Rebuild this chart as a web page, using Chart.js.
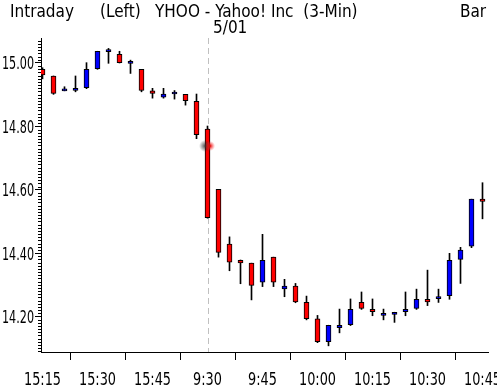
<!DOCTYPE html>
<html>
<head>
<meta charset="UTF-8">
<title>YHOO Intraday 3-Min</title>
<style>
  body { margin: 0; background: #fff; }
  #wrap { width: 497px; height: 389px; }
</style>
</head>
<body>
<div id="wrap"><canvas id="chart" width="497" height="389"></canvas></div>
<script src="https://cdn.jsdelivr.net/npm/chart.js"></script>
<script>
// 3-minute bars: 15:15 on the previous day, then 5/01 from 9:30 to 10:45
const opens  = [14.980, 14.959, 14.912, 14.913, 14.922, 14.982, 15.036, 15.027, 14.999, 14.980,
                14.912, 14.892, 14.902, 14.901, 14.879, 14.791, 14.601, 14.428, 14.377, 14.368,
                14.308, 14.387, 14.287, 14.296, 14.244, 14.192, 14.120, 14.164, 14.174, 14.244,
                14.222, 14.203, 14.206, 14.215, 14.225, 14.254, 14.256, 14.265, 14.380, 14.422, 14.570];
const highs  = [14.985, 14.959, 14.925, 14.959, 15.001, 15.037, 15.046, 15.037, 15.009, 14.980,
                14.920, 14.920, 14.913, 14.901, 14.902, 14.801, 14.601, 14.451, 14.378, 14.368,
                14.459, 14.387, 14.317, 14.304, 14.264, 14.203, 14.172, 14.223, 14.255, 14.277,
                14.255, 14.223, 14.213, 14.277, 14.286, 14.346, 14.286, 14.399, 14.418, 14.570, 14.622];
const lows   = [14.950, 14.901, 14.912, 14.909, 14.919, 14.980, 14.999, 15.000, 14.967, 14.909,
                14.889, 14.889, 14.886, 14.867, 14.761, 14.510, 14.387, 14.344, 14.303, 14.252,
                14.294, 14.294, 14.262, 14.243, 14.189, 14.117, 14.107, 14.148, 14.171, 14.222,
                14.202, 14.189, 14.181, 14.202, 14.222, 14.234, 14.244, 14.254, 14.304, 14.417, 14.508];
const closes = [14.962, 14.904, 14.912, 14.920, 14.980, 15.037, 15.036, 15.001, 14.999, 14.913,
                14.904, 14.902, 14.902, 14.881, 14.774, 14.512, 14.402, 14.371, 14.369, 14.298,
                14.377, 14.308, 14.296, 14.246, 14.193, 14.120, 14.172, 14.172, 14.222, 14.225,
                14.215, 14.203, 14.213, 14.222, 14.254, 14.246, 14.262, 14.377, 14.409, 14.570, 14.563];

const timeLabels = ['15:15', '15:30', '15:45', '9:30', '9:45', '10:00', '10:15', '10:30', '10:45'];
const labelEvery = 5;          // one time label every 5 bars (15 min)
const priceTicks = [14.20, 14.40, 14.60, 14.80, 15.00];
const sessionBreak = 15;       // first bar of 5/01
const cursorAt = { x: 15.05, y: 14.738 };

const FONT = "'DejaVu Sans Condensed', 'DejaVu Sans', sans-serif";
Chart.defaults.font.family = FONT;
Chart.defaults.color = '#000';

const idx = opens.map((_, i) => i);
const bodies = idx.map(i => ({ x: i, y: [opens[i], closes[i]] }));
const wicks = idx.map(i => ({ x: i, y: [lows[i], highs[i]] }));
const bodyColors = idx.map(i => closes[i] >= opens[i] ? '#0000ff' : '#ff0000');

// the original uses a narrow bitmap face, so squeeze tick labels sideways
function narrowText(ctx, text, x, y, align, squeeze) {
    const w = ctx.measureText(text).width * squeeze;
    const left = align === 'right' ? x - w : align === 'center' ? x - w / 2 : x;
    ctx.save();
    ctx.translate(left, y);
    ctx.scale(squeeze, 1);
    ctx.textAlign = 'left';
    ctx.fillText(text, 0, 0);
    ctx.restore();
}

const decor = {
    id: 'decor',
    beforeDraw(chart) {
        const ctx = chart.ctx;
        ctx.save();
        ctx.fillStyle = '#fff';
        ctx.fillRect(0, 0, chart.width, chart.height);
        ctx.restore();
    },
    beforeDatasetsDraw(chart) {
        // dashed line at the session open
        const ctx = chart.ctx, a = chart.chartArea;
        const x = Math.round(chart.scales.x.getPixelForValue(sessionBreak)) + 0.5;
        ctx.save();
        ctx.strokeStyle = '#c0c0c0';
        ctx.lineWidth = 1;
        ctx.setLineDash([6, 4]);
        ctx.beginPath();
        ctx.moveTo(x, a.top);
        ctx.lineTo(x, a.bottom);
        ctx.stroke();
        ctx.restore();
    },
    afterDraw(chart) {
        const ctx = chart.ctx, y = chart.scales.y, x = chart.scales.x;
        ctx.save();
        // minor price ticks every 0.01
        ctx.strokeStyle = '#000';
        ctx.lineWidth = 1;
        ctx.beginPath();
        for (let k = Math.ceil(y.min * 100); k <= Math.floor(y.max * 100); k++) {
            if (k % 20 === 0) continue;
            const py = Math.round(y.getPixelForValue(k / 100)) + 0.5;
            ctx.moveTo(y.right - 3, py);
            ctx.lineTo(y.right, py);
        }
        ctx.stroke();

        ctx.fillStyle = '#000';
        ctx.font = '17px ' + FONT;
        ctx.textBaseline = 'alphabetic';

        // tick labels
        const ySq = 32 / ctx.measureText('15.00').width;
        priceTicks.forEach(v => {
            narrowText(ctx, v.toFixed(2), y.right - 7, y.getPixelForValue(v) + 6.5, 'right', ySq);
        });
        const xSq = 37 / ctx.measureText('15:15').width;
        timeLabels.forEach((t, k) => {
            narrowText(ctx, t, x.getPixelForValue(k * labelEvery), 385, 'center', xSq);
        });

        // header text
        ctx.fillText('Intraday', 10, 17);
        ctx.fillText('(Left)', 100, 17);
        ctx.fillText('YHOO - Yahoo! Inc  (3-Min)', 155, 17);
        ctx.fillText('Bar', 460, 17);
        ctx.fillText('5/01', 213, 33);

        // mouse cursor blob
        const cx = x.getPixelForValue(cursorAt.x), cy = y.getPixelForValue(cursorAt.y);
        let g = ctx.createRadialGradient(cx - 3, cy, 0, cx - 3, cy, 6);
        g.addColorStop(0, 'rgba(40,40,40,0.8)');
        g.addColorStop(1, 'rgba(40,40,40,0)');
        ctx.fillStyle = g;
        ctx.fillRect(cx - 10, cy - 8, 16, 16);
        g = ctx.createRadialGradient(cx + 2, cy, 0, cx + 2, cy, 5);
        g.addColorStop(0, 'rgba(230,0,0,1)');
        g.addColorStop(1, 'rgba(255,60,60,0)');
        ctx.fillStyle = g;
        ctx.fillRect(cx - 4, cy - 6, 12, 12);
        ctx.restore();
    }
};

new Chart(document.getElementById('chart'), {
    type: 'bar',
    data: {
        datasets: [
            {
                data: wicks,
                backgroundColor: '#000',
                barThickness: 1,
                grouped: false,
                order: 2
            },
            {
                data: bodies,
                backgroundColor: bodyColors,
                borderColor: '#000',
                borderWidth: 1,
                borderSkipped: false,
                barThickness: 5,
                minBarLength: 2,
                grouped: false,
                order: 1
            }
        ]
    },
    options: {
        responsive: false,
        animation: false,
        layout: { padding: { top: 38, right: 9, left: 0, bottom: 0 } },
        plugins: { legend: { display: false }, tooltip: { enabled: false } },
        scales: {
            x: {
                type: 'linear',
                min: -0.1364,
                max: 40.5,
                offset: false,
                grid: { drawOnChartArea: false, tickLength: 8, color: '#000' },
                border: { color: '#000', width: 1 },
                ticks: { display: false },
                afterBuildTicks: s => { s.ticks = timeLabels.map((_, k) => ({ value: k * labelEvery })); },
                afterFit: s => { s.height = 37; s.paddingLeft = 0; s.paddingRight = 0; }
            },
            y: {
                min: 14.0875,
                max: 15.0789,
                grid: { drawOnChartArea: false, tickLength: 6, color: '#000' },
                border: { color: '#000', width: 1 },
                ticks: { display: false },
                afterBuildTicks: s => { s.ticks = priceTicks.map(v => ({ value: v })); },
                afterFit: s => { s.width = 41; s.paddingTop = 0; s.paddingBottom = 0; }
            }
        }
    },
    plugins: [decor]
});
</script>
</body>
</html>
